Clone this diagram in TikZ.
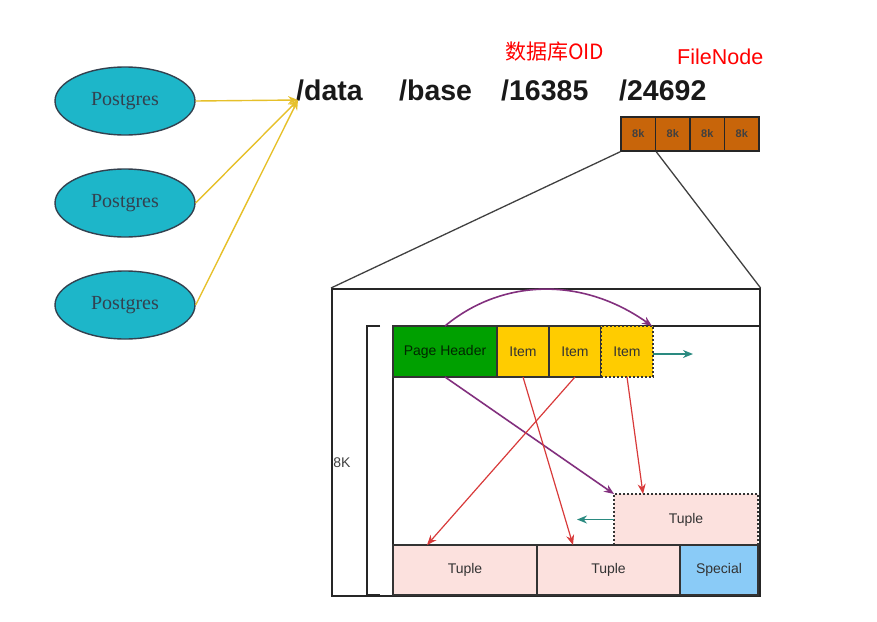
\documentclass[tikz,border=0pt]{standalone}
\usepackage{fontspec}
\setmainfont{Liberation Sans}
\newfontfamily\pgserif{Liberation Serif}
\newfontfamily\cjk{Noto Sans CJK SC}
\usetikzlibrary{shapes.geometric, arrows.meta}
\definecolor{pgcyan}{HTML}{1DB6C9}
\definecolor{pgline}{HTML}{33414F}
\definecolor{linkyellow}{HTML}{E6C02A}
\definecolor{blockorange}{HTML}{C8650A}
\definecolor{hdrgreen}{HTML}{00A000}
\definecolor{itemyellow}{HTML}{FFCC00}
\definecolor{tuplepink}{HTML}{FCE1DE}
\definecolor{specblue}{HTML}{8ACBF7}
\definecolor{ptrred}{HTML}{D83A3A}
\definecolor{ptrpurple}{HTML}{82307E}
\definecolor{ptrteal}{HTML}{2A8A80}
\tikzstyle{arrow} = [->,>={Stealth[length=10pt,width=8pt]}]

\begin{document}
\begin{tikzpicture}[x=1pt, y=-1pt,
    pg/.style={ellipse, draw=pgline, line width=1.4pt, fill=pgcyan, minimum width=140pt, minimum height=68pt, inner sep=0pt, text=pgline, font=\pgserif\fontsize{20}{20}\selectfont},
    dirname/.style={anchor=base west, inner sep=0pt, font=\bfseries\fontsize{28.5}{28.5}\selectfont, text=black!90},
    note/.style={anchor=base west, inner sep=0pt, text=red},
    kb/.style={draw=black!85, line width=1.5pt, fill=blockorange, minimum width=34.5pt, minimum height=34pt, inner sep=0pt, font=\bfseries\fontsize{11}{11}\selectfont, text=black!75},
    cell/.style={draw=black!80, line width=1.5pt, anchor=north west, minimum height=51pt, inner sep=0pt, outer sep=0pt, font=\fontsize{14}{14}\selectfont, text=black!80},
    slot/.style={cell, dash pattern=on 2pt off 2pt}]
    \useasboundingbox (0,0) rectangle (877,621);

    % Backends and the data directory
    \node[pg] (pg1) at (125,101) {Postgres};
    \node[pg] (pg2) at (125,203) {Postgres};
    \node[pg] (pg3) at (125,305) {Postgres};
    \coordinate (root) at (298,100);

    \node[dirname] (data) at (296,100) {/data};
    \node[dirname] (base) at (399,100) {/base};
    \node[dirname] (dboid) at (501,100) {/16385};
    \node[dirname] (fnode) at (619,100) {/24692};
    \node[note, font=\fontsize{21}{21}\selectfont] (oidnote) at (505,59) {\cjk 数据库OID};
    \node[note, font=\fontsize{21.5}{21.5}\selectfont] (fnnote) at (677,64) {FileNode};

    \draw[arrow, linkyellow, line width=1.4pt] (pg1.east) -- (root);
    \draw[arrow, linkyellow, line width=1.4pt] (pg2.east) -- (root);
    \draw[arrow, linkyellow, line width=1.4pt] (pg3.east) -- (root);

    % 8k blocks of the file
    \foreach \i in {1,...,4}
        \node[kb] (kb\i) at (603.75+34.5*\i,134) {8k};

    % One page, zoomed
    \node[draw=black!85, line width=1.6pt, anchor=north west, minimum width=428pt, minimum height=307pt, inner sep=0pt] (page) at (331,288) {};
    \draw[black!75, line width=1.3pt] (kb1.south west) -- (page.north west);
    \draw[black!75, line width=1.3pt] (kb1.south east) -- (page.north east);
    \draw[black!85, line width=1.6pt] (393,595) -- (393,326) -- (page.east |- 0,326);
    \draw[black!85, line width=1.6pt] (380,326) -- (367,326) -- (367,595) -- (380,595);
    \node[font=\fontsize{14}{14}\selectfont, text=black!75] (size) at (342,463) {8K};

    \node[cell, fill=hdrgreen, text=black!85!green, minimum width=104pt] (hdr) at (393,326) {Page Header};
    \node[cell, fill=itemyellow, minimum width=52pt] (it1) at (497,326) {Item};
    \node[cell, fill=itemyellow, minimum width=52pt] (it2) at (549,326) {Item};
    \node[slot, fill=itemyellow, minimum width=52pt] (it3) at (601,326) {Item};
    \node[slot, fill=tuplepink, minimum width=144pt] (tnew) at (614,494) {Tuple};
    \node[cell, fill=tuplepink, minimum width=144pt, minimum height=50pt] (tup1) at (393,545) {Tuple};
    \node[cell, fill=tuplepink, minimum width=143pt, minimum height=50pt] (tup2) at (537,545) {Tuple};
    \node[cell, fill=specblue, minimum width=78pt, minimum height=50pt] (spec) at (680,545) {Special};
    \coordinate (grow) at (693,354);
    \coordinate (shift) at (577,519.5);

    % Pointers
    \draw[arrow, ptrpurple, line width=1.6pt] (hdr.north) .. controls (500,280) and (580,275) .. (652,326);
    \draw[arrow, ptrpurple, line width=1.6pt] (hdr.south) -- (tnew.north west);
    \draw[arrow, ptrred, line width=1.2pt] (it1.south) -- ([xshift=36pt]tup2.north west);
    \draw[arrow, ptrred, line width=1.2pt] (it2.south) -- ([xshift=34pt]tup1.north west);
    \draw[arrow, ptrred, line width=1.2pt] (it3.south) -- ([xshift=29pt]tnew.north west);
    \draw[arrow, ptrteal, line width=1.8pt] (it3.east |- grow) -- (grow);
    \draw[arrow, ptrteal, line width=1.8pt] (tnew.west) -- (shift);

\end{tikzpicture}
\end{document}
